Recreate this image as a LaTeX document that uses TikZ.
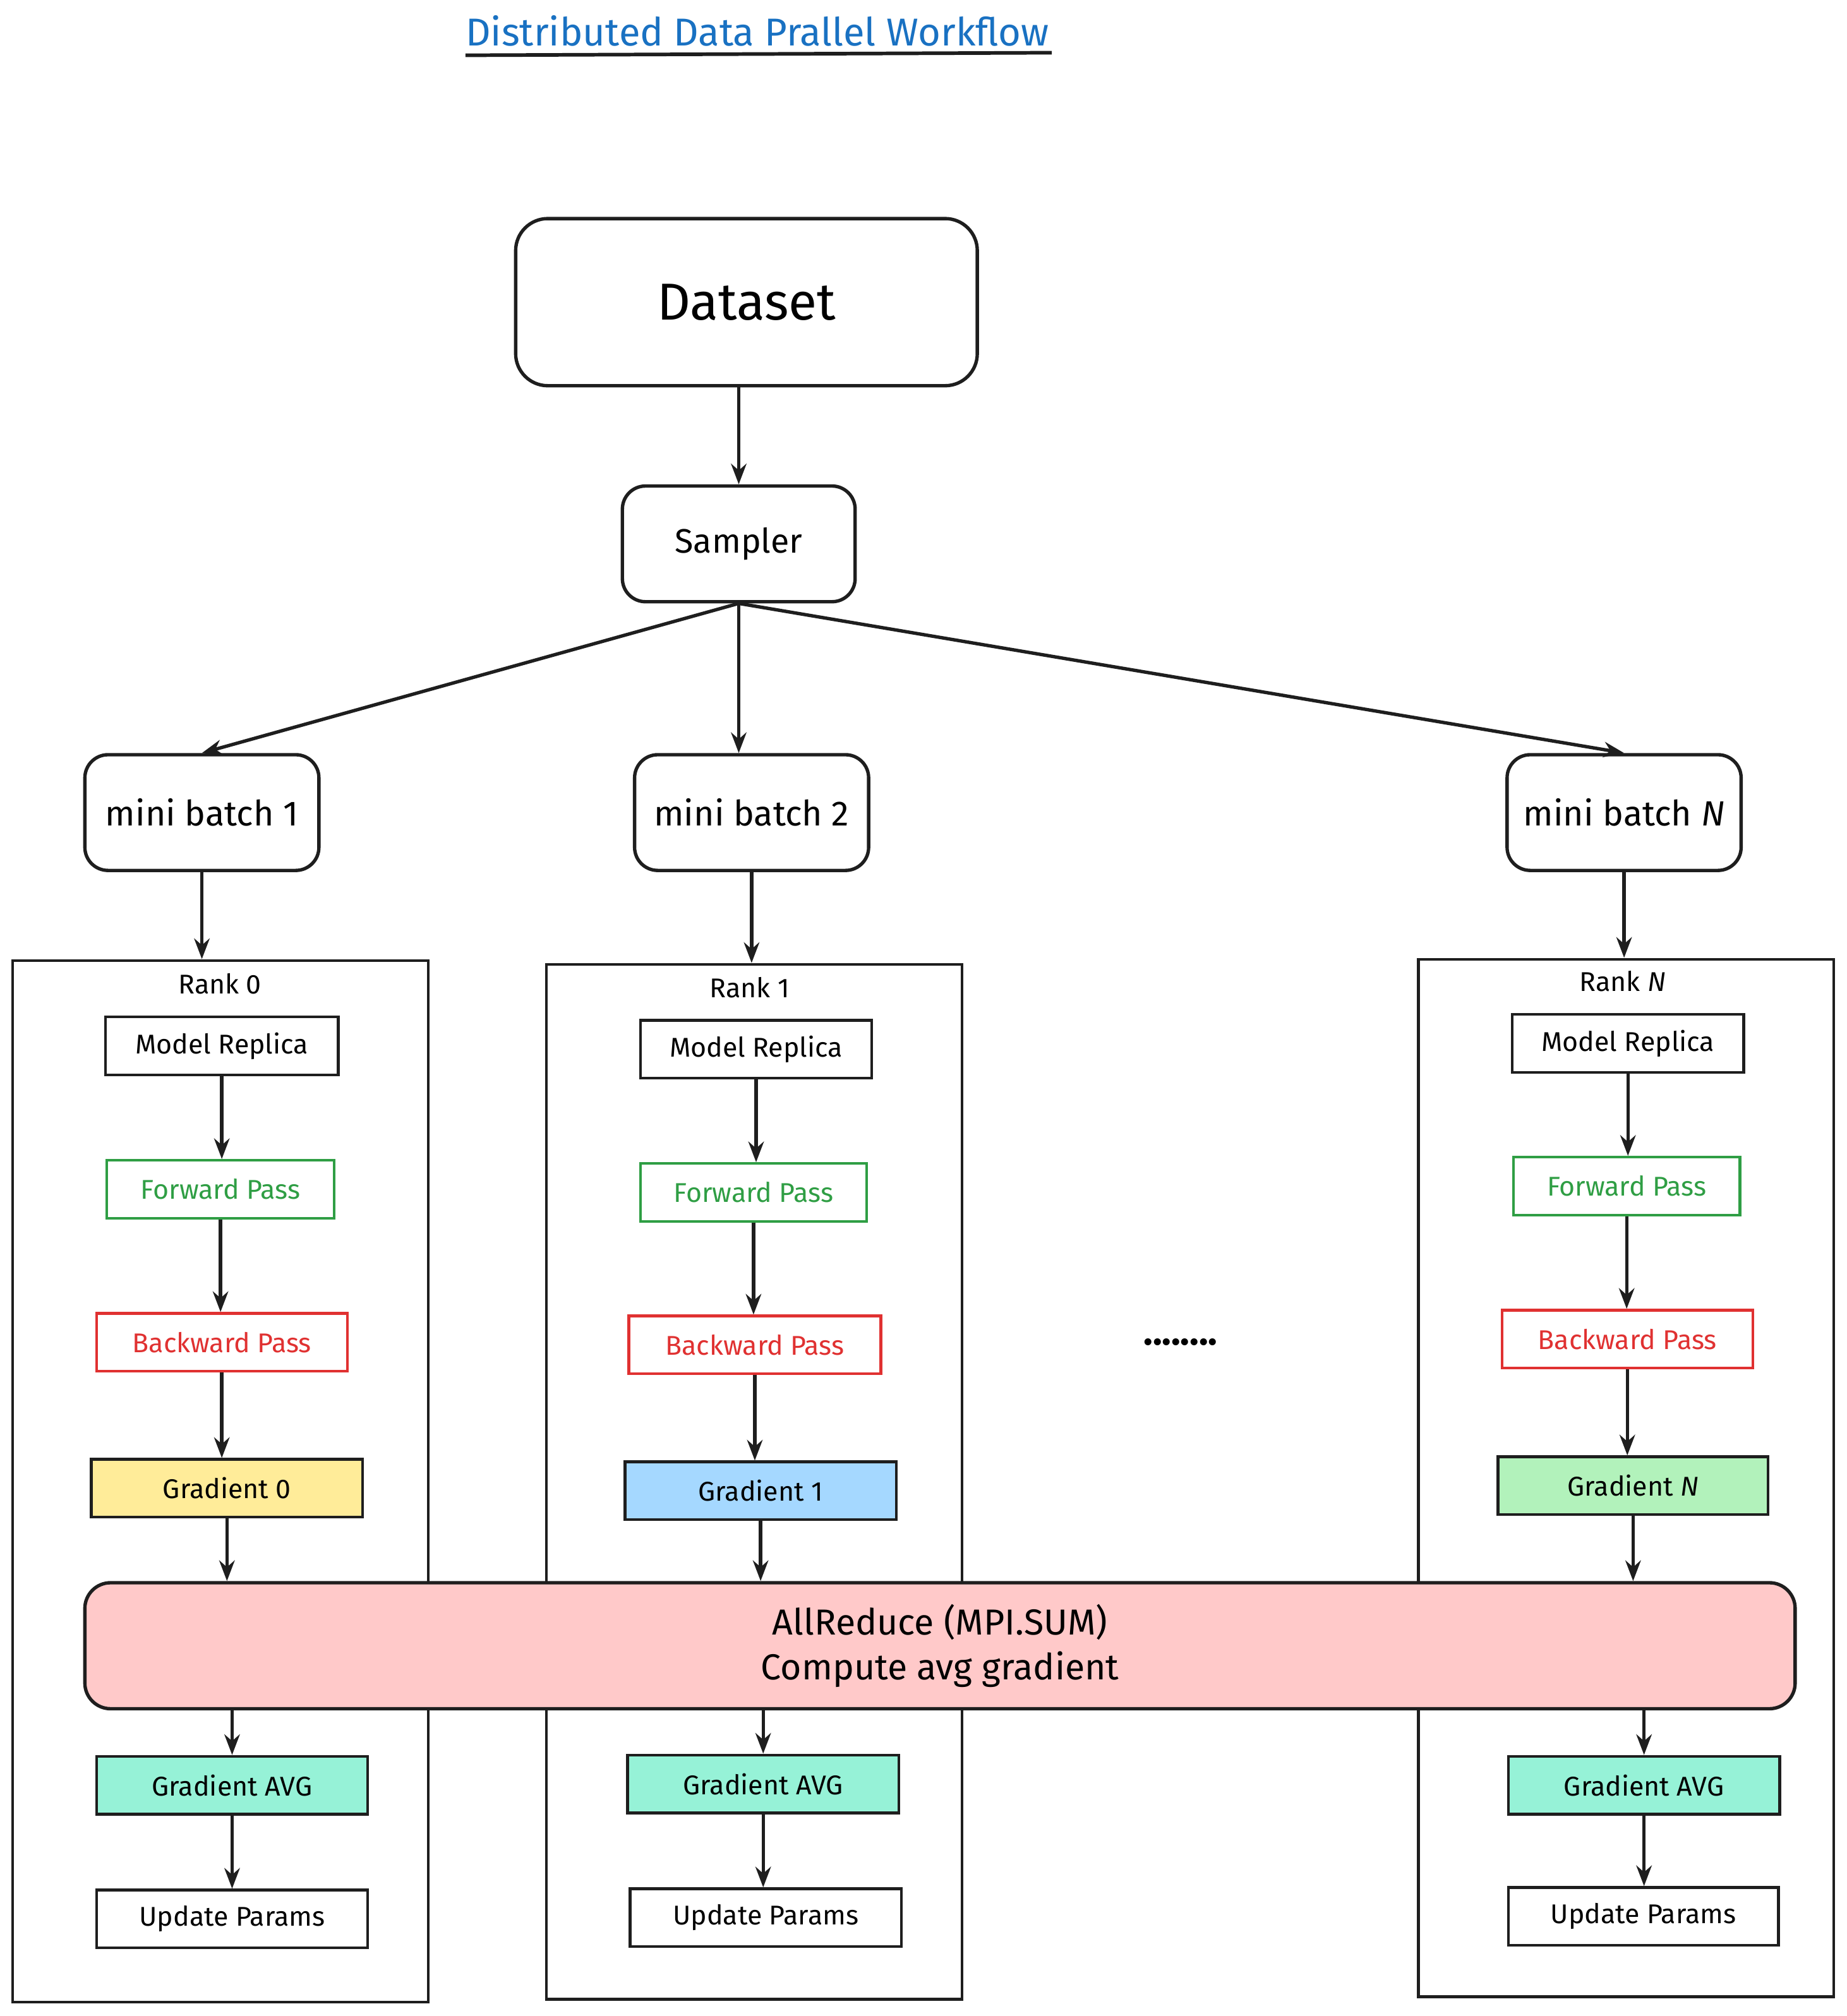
\documentclass[tikz,border=0pt]{standalone}
\usepackage{fontspec}
\setmainfont{Fira Sans}
\usetikzlibrary{arrows.meta}
\definecolor{inkBlack}{HTML}{1E1E1E}
\definecolor{titleBlue}{HTML}{1971C2}
\definecolor{fwdGreen}{HTML}{2F9E44}
\definecolor{bwdRed}{HTML}{E03131}
\definecolor{gradYellow}{HTML}{FFEC99}
\definecolor{gradBlue}{HTML}{A5D8FF}
\definecolor{gradGreen}{HTML}{B2F2BB}
\definecolor{avgTeal}{HTML}{96F2D7}
\definecolor{reducePink}{HTML}{FFC9C9}

\begin{document}
\begin{tikzpicture}[x=0.2mm, y=-0.2mm,
    bigbox/.style={draw=inkBlack, line width=1.5pt, rounded corners=3.6mm, minimum width=36.4mm, minimum height=18mm, inner sep=0pt, font=\fontsize{15.5}{18}\selectfont},
    stage/.style={draw=inkBlack, line width=1.2pt, minimum height=9mm, inner sep=0pt, font=\fontsize{12}{14}\selectfont},
    rankbox/.style={draw=inkBlack, line width=1.2pt, minimum width=64.6mm, inner sep=0pt},
    ranklabel/.style={font=\fontsize{12}{14}\selectfont},
    flow/.style={draw=inkBlack, line width=1.5pt, -{Stealth[length=3.2mm,width=2.4mm]}}]

            \useasboundingbox (0,0) rectangle (1436,1568);

            % title
            \node[text=titleBlue, font=\fontsize{17.2}{20}\selectfont] (title) at (589,24) {Distributed Data Prallel Workflow};
            \draw[inkBlack, line width=1.6pt] (362,43) -- (818,41);

            % data source
            \node[bigbox, rounded corners=5mm, minimum width=71.8mm, minimum height=26mm, font=\fontsize{23}{27}\selectfont] (dataset) at (580.5,235) {Dataset};
            \node[bigbox, minimum width=36.2mm, font=\fontsize{15}{18}\selectfont] (sampler) at (574.5,423) {Sampler};

            % mini batches
            \node[bigbox] (mb1) at (157,632) {mini batch 1};
            \node[bigbox] (mb2) at (584.5,632) {mini batch 2};
            \node[bigbox] (mbN) at (1263,632) {mini batch \textit{N}};

            % rank 0
            \node[rankbox, minimum height=162mm] (rank0) at (171.5,1152) {};
            \node[ranklabel] (rname0) at (171,765) {Rank 0};
            \node[stage, minimum width=36.2mm] (model0) at (172.5,813.5) {Model Replica};
            \node[stage, minimum width=35.4mm, draw=fwdGreen, text=fwdGreen] (fwd0) at (171.5,925) {Forward Pass};
            \node[stage, minimum width=39mm, draw=bwdRed, text=bwdRed] (bwd0) at (172.5,1044) {Backward Pass};
            \node[stage, minimum width=42.2mm, fill=gradYellow] (grad0) at (176.5,1157.5) {Gradient 0};
            \node[stage, minimum width=42.2mm, fill=avgTeal] (avg0) at (180.5,1388.5) {Gradient AVG};
            \node[stage, minimum width=42.2mm] (upd0) at (180.5,1492.5) {Update Params};

            % rank 1
            \node[rankbox, minimum height=161mm] (rank1) at (586.5,1152.5) {};
            \node[ranklabel] (rname1) at (583,768) {Rank 1};
            \node[stage, minimum width=36mm] (model1) at (588,816) {Model Replica};
            \node[stage, minimum width=35.2mm, draw=fwdGreen, text=fwdGreen] (fwd1) at (586,927.5) {Forward Pass};
            \node[stage, minimum width=39.2mm, draw=bwdRed, text=bwdRed] (bwd1) at (587,1046) {Backward Pass};
            \node[stage, minimum width=42.2mm, fill=gradBlue] (grad1) at (591.5,1159.5) {Gradient 1};
            \node[stage, minimum width=42.2mm, fill=avgTeal] (avg1) at (593.5,1387.5) {Gradient AVG};
            \node[stage, minimum width=42.2mm] (upd1) at (595.5,1491.5) {Update Params};

            % rank N
            \node[rankbox, minimum height=161.4mm] (rankN) at (1264.5,1149.5) {};
            \node[ranklabel] (rnameN) at (1262,763) {Rank \textit{N}};
            \node[stage, minimum width=36mm] (modelN) at (1266,811.5) {Model Replica};
            \node[stage, minimum width=35.2mm, draw=fwdGreen, text=fwdGreen] (fwdN) at (1265,922.5) {Forward Pass};
            \node[stage, minimum width=39mm, draw=bwdRed, text=bwdRed] (bwdN) at (1265.5,1041.5) {Backward Pass};
            \node[stage, minimum width=42mm, fill=gradGreen] (gradN) at (1270,1155.5) {Gradient \textit{N}};
            \node[stage, minimum width=42.2mm, fill=avgTeal] (avgN) at (1278.5,1388.5) {Gradient AVG};
            \node[stage, minimum width=42mm] (updN) at (1278,1490.5) {Update Params};

            \node[font=\fontsize{17}{20}\selectfont\bfseries] (dots) at (918,1044) {........};

            % all reduce on top of the ranks
            \node[draw=inkBlack, fill=reducePink, line width=1.5pt, rounded corners=4mm, minimum width=266mm, minimum height=19.6mm, align=center, font=\fontsize{16}{20}\selectfont] (allreduce) at (731,1280) {AllReduce (MPI.SUM)\\Compute avg gradient};

            % arrows
            \draw[flow] (sampler.north |- dataset.south) -- (sampler.north);
            \draw[flow] (sampler.south) -- (mb1.north);
            \draw[flow] (sampler.south) -- (sampler.south |- mb2.north);
            \draw[flow] (sampler.south) -- (mbN.north);

            \draw[flow] (mb1.south) -- (mb1.south |- rank0.north);
            \draw[flow] (mb2.south) -- (mb2.south |- rank1.north);
            \draw[flow] (mbN.south) -- (mbN.south |- rankN.north);

            \foreach \r in {0,1,N}{
                \draw[flow] (model\r.south) -- (model\r.south |- fwd\r.north);
                \draw[flow] (fwd\r.south) -- (fwd\r.south |- bwd\r.north);
                \draw[flow] (bwd\r.south) -- (bwd\r.south |- grad\r.north);
                \draw[flow] (grad\r.south) -- (grad\r.south |- allreduce.north);
                \draw[flow] (avg\r.north |- allreduce.south) -- (avg\r.north);
                \draw[flow] (avg\r.south) -- (avg\r.south |- upd\r.north);
            }

        \end{tikzpicture}
\end{document}
